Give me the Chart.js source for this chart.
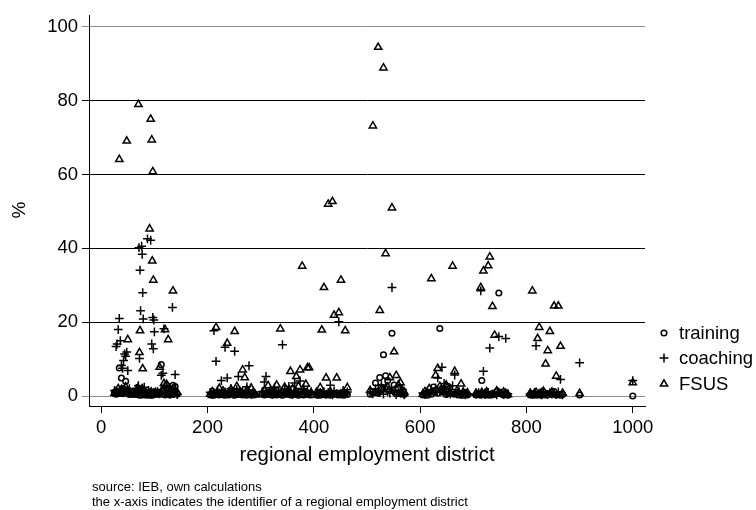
<!DOCTYPE html>
<html>
<head>
<meta charset="utf-8">
<script src="https://cdn.jsdelivr.net/npm/chart.js@4.4.1/dist/chart.umd.min.js"></script>
<style>
  html, body { margin: 0; padding: 0; background: #fff; }
  #wrap { width: 756px; height: 510px; position: relative; }
</style>
</head>
<body>
<div id="wrap"><canvas id="scatterChart"></canvas></div>
<script>
// district identifiers (x) and the three shares per district (%)
const districts = [
  25,28,30,32,34,36,38,40,42,44,46,48,50,53,55,
  63,66,69,70,71,72,73,74,76,77,78,79,81,84,87,89,91,93,94,95,96,97,98,99,100,102,
  106,110,113,116,118,120,123,126,129,132,134,135,137,139,143,
  205,209,212,216,219,222,226,229,233,237,240,244,248,251,255,258,262,266,270,274,278,282,286,290,
  303,307,310,314,318,322,326,330,334,337,341,345,349,353,356,360,364,367,371,374,378,381,385,388,391,395,
  405,408,412,415,419,423,427,431,435,438,443,447,451,455,459,463,
  506,511,516,521,524,527,531,535,539,543,547,551,555,559,563,567,570,
  605,609,613,617,621,625,629,633,637,641,645,649,653,657,661,665,669,673,677,681,685,689,
  705,710,714,716,719,722,725,728,731,736,740,744,748,752,757,761,765,
  807,811,815,818,821,824,828,832,836,840,844,848,852,856,860,864,868,
  900,1000
];
const training = [
  1.0,0.5,1.2,0.8,7.6,1.5,4.9,0.6,2.0,1.1,4.0,0.9,1.6,0.4,1.3,
  0.5,1.2,0.4,0.8,0.3,1.5,0.6,0.2,0.9,1.1,0.4,0.7,0.3,0.5,0.2,0.8,0.3,0.6,0.4,0.2,0.9,0.3,0.5,0.7,0.4,0.6,
  0.5,1.0,8.5,1.5,2.2,0.3,2.9,0.6,0.3,1.8,0.4,2.9,1.2,2.6,0.5,
  0.3,0.6,0.2,0.5,0.8,0.3,1.0,0.4,0.2,0.7,0.3,0.9,0.5,0.2,0.6,0.4,1.1,0.3,0.7,0.2,0.5,0.8,0.3,0.4,
  0.5,0.3,0.8,0.4,1.0,0.2,0.6,0.3,0.9,0.4,0.2,0.7,0.5,1.2,0.3,0.6,0.4,0.8,0.2,1.0,0.5,0.3,0.9,0.4,0.6,0.3,
  0.3,0.5,0.2,0.6,0.4,0.3,0.7,0.2,0.5,0.4,0.8,0.3,0.6,0.2,0.5,0.4,
  0.5,1.2,3.5,0.8,5.0,2.4,11.2,5.5,4.2,1.5,17.0,3.0,0.6,2.1,0.9,1.4,0.4,
  0.3,0.6,0.2,1.0,0.5,2.4,1.5,0.8,18.3,2.0,1.2,0.4,2.6,0.7,1.1,0.5,0.9,0.3,0.6,0.2,0.4,0.3,
  0.3,0.5,0.2,4.2,0.4,0.6,0.3,0.5,0.2,0.7,0.4,1.2,27.9,0.6,0.3,0.5,0.2,
  0.3,0.5,0.2,0.4,0.3,0.6,0.2,0.5,0.3,0.7,0.4,0.6,1.2,0.3,0.5,0.2,0.4,
  0.3,0.0
];
const coaching = [
  1.5,13.4,14.1,18.0,21.0,15.0,8.3,7.5,9.6,11.4,10.8,11.9,6.9,2.0,0.8,
  1.0,2.1,1.6,2.8,40.2,10.2,34.1,23.1,40.6,38.4,28.0,20.9,2.4,1.2,42.6,1.5,0.9,42.2,0.6,14.1,0.8,21.3,12.8,20.6,17.4,0.9,
  1.2,0.6,5.6,6.2,18.2,1.0,0.8,1.4,0.5,0.9,24.0,1.1,0.7,5.8,0.4,
  1.0,0.4,17.7,9.4,1.5,0.8,4.2,0.6,13.2,4.9,1.2,2.0,0.5,12.1,1.8,5.3,0.9,1.4,0.7,2.5,8.2,0.4,1.1,0.6,
  1.2,3.8,5.3,0.9,1.6,0.5,2.2,0.8,1.3,0.6,13.9,1.9,0.7,2.6,1.0,0.4,3.5,1.2,0.8,4.1,0.6,2.0,0.9,1.5,0.5,1.1,
  0.6,0.4,1.0,0.7,1.2,0.5,0.9,2.9,0.3,1.4,0.6,20.1,0.8,1.5,0.5,1.1,
  1.0,0.6,2.0,1.4,0.9,3.0,0.5,2.6,1.2,0.8,29.4,1.6,0.4,1.0,0.7,1.8,0.3,
  0.8,0.4,1.1,0.6,1.5,0.9,2.2,4.9,1.3,7.8,3.4,0.7,1.0,0.5,2.8,5.7,0.6,1.2,0.4,0.9,0.3,0.6,
  0.5,0.9,28.5,0.6,6.7,0.4,0.8,1.0,13.0,0.5,0.7,0.3,16.1,0.8,0.4,15.6,0.6,
  0.6,0.4,0.9,13.6,0.5,0.8,0.3,1.0,0.6,0.4,0.9,0.5,0.7,0.4,1.1,4.5,0.3,
  9.0,4.2
];
const fsus = [
  0.8,1.2,0.5,2.0,64.1,1.0,1.8,0.9,1.4,0.7,2.5,69.1,15.3,1.1,0.6,
  0.3,0.8,2.2,79.0,1.0,11.8,17.7,1.5,0.6,2.0,7.4,1.2,0.5,0.9,0.4,0.7,45.3,75.0,1.1,69.4,36.6,60.8,31.4,0.8,0.5,1.0,
  0.8,7.8,0.4,1.2,3.4,18.0,3.2,15.3,0.9,1.5,0.6,28.5,2.0,0.8,1.0,
  0.5,1.2,0.8,18.6,0.3,2.1,0.6,1.4,0.9,14.3,0.5,1.8,0.7,17.5,2.6,0.4,1.1,7.1,5.0,1.6,0.9,2.2,0.6,0.3,
  0.8,1.5,0.4,2.8,0.6,1.2,0.9,3.0,0.5,18.2,1.0,2.4,0.8,1.7,6.7,2.0,1.1,5.3,2.6,7.1,35.2,1.4,3.2,7.7,7.7,0.9,
  1.0,0.5,2.3,17.9,29.4,4.9,52.0,1.2,52.7,21.9,4.9,22.6,31.4,0.7,17.7,2.3,
  1.5,73.2,0.8,94.5,23.2,1.8,88.9,38.6,2.4,5.0,51.0,12.0,5.6,3.0,3.6,0.5,1.1,
  0.5,1.2,0.7,2.0,31.8,1.0,5.6,7.5,2.6,1.5,0.9,3.0,1.8,0.6,35.2,6.7,1.4,0.8,3.3,1.1,0.5,0.9,
  0.8,0.4,29.4,1.0,33.9,0.6,1.2,35.3,37.7,24.3,16.5,1.4,0.9,0.5,1.1,0.7,0.4,
  0.8,28.5,0.6,1.0,15.6,18.6,0.9,1.3,8.7,12.3,17.5,1.1,24.4,5.4,24.4,13.5,0.8,
  0.7,3.6
];
const xTicks = [0, 200, 400, 600, 800, 1000];
const yTicks = [0, 20, 40, 60, 80, 100];
const seriesNames = ['training', 'coaching', 'FSUS'];
const seriesStyles = ['circle', 'cross', 'triangle'];
const xTitle = 'regional employment district';
const yTitle = '%';
const notes = [
  'source: IEB, own calculations',
  'the x-axis indicates the identifier of a regional employment district'
];

const FONT = 'Liberation Sans, Arial, sans-serif';
const MARK_W = 1.5;

function toPoints(values) {
    return districts.map((d, i) => ({ x: d, y: values[i] }));
}

// marker for the hand drawn legend, same shapes as the points
function drawMarker(ctx, style, x, y) {
    ctx.beginPath();
    if (style === 'circle') {
        ctx.arc(x, y, 2.8, 0, Math.PI * 2);
    } else if (style === 'cross') {
        ctx.moveTo(x, y - 4.4); ctx.lineTo(x, y + 4.4);
        ctx.moveTo(x - 4.4, y); ctx.lineTo(x + 4.4, y);
    } else {
        const r = 4.2;
        ctx.moveTo(x, y - r);
        ctx.lineTo(x + r * Math.sin(Math.PI / 3), y + r / 2);
        ctx.lineTo(x - r * Math.sin(Math.PI / 3), y + r / 2);
        ctx.closePath();
    }
    ctx.stroke();
}

const textPlugin = {
    id: 'stataText',
    afterDraw(chart) {
        const ctx = chart.ctx;
        const area = chart.chartArea;
        ctx.save();
        ctx.fillStyle = '#000';
        ctx.strokeStyle = '#000';

        // y title
        ctx.save();
        ctx.translate(20, 210);
        ctx.rotate(-Math.PI / 2);
        ctx.font = '19px ' + FONT;
        ctx.textAlign = 'center';
        ctx.textBaseline = 'middle';
        ctx.fillText(yTitle, 0, 0);
        ctx.restore();

        // x title
        ctx.font = '20.5px ' + FONT;
        ctx.textAlign = 'center';
        ctx.textBaseline = 'middle';
        ctx.fillText(xTitle, (area.left + area.right) / 2, 455);

        // legend
        const rows = [333, 358, 384];
        ctx.lineWidth = MARK_W;
        ctx.font = '18.5px ' + FONT;
        ctx.textAlign = 'left';
        seriesNames.forEach((name, i) => {
            drawMarker(ctx, seriesStyles[i], 664, rows[i]);
            ctx.fillText(name, 679, rows[i] + 1);
        });

        // notes
        ctx.font = '13px ' + FONT;
        notes.forEach((line, i) => {
            ctx.fillText(line, 92, 487 + i * 15);
        });
        ctx.restore();
    }
};

function makeDataset(label, values, style, radius, order) {
    return {
        label: label,
        data: toPoints(values),
        pointStyle: style,
        pointRadius: radius,
        pointHoverRadius: radius,
        pointBorderWidth: MARK_W,
        borderColor: '#000',
        backgroundColor: 'rgba(0,0,0,0)',
        order: order
    };
}

const gridColor = ctx => (ctx.tick && (ctx.tick.value === 0 || ctx.tick.value === 100)) ? '#8c8c8c' : '#000';

new Chart(document.getElementById('scatterChart'), {
    type: 'scatter',
    data: {
        datasets: [
            makeDataset(seriesNames[0], training, 'circle', 2.8, 3),
            makeDataset(seriesNames[1], coaching, 'cross', 4.4, 2),
            makeDataset(seriesNames[2], fsus, 'triangle', 4.2, 1)
        ]
    },
    options: {
        responsive: true,
        maintainAspectRatio: false,
        animation: false,
        devicePixelRatio: 1,
        layout: { padding: { left: 0, right: 111, top: 13, bottom: 0 } },
        plugins: {
            legend: { display: false },
            tooltip: { enabled: false }
        },
        scales: {
            x: {
                type: 'linear',
                min: -23,
                max: 1023,
                afterFit: s => { s.height = 104; },
                afterBuildTicks: s => { s.ticks = xTicks.map(v => ({ value: v })); },
                border: { display: true, color: '#000', width: 1 },
                grid: { drawOnChartArea: false, drawTicks: true, tickLength: 7, tickColor: '#000' },
                ticks: {
                    color: '#000',
                    font: { family: FONT, size: 18.5 },
                    padding: 4,
                    maxRotation: 0,
                    autoSkip: false,
                    callback: v => String(v)
                }
            },
            y: {
                type: 'linear',
                min: -2.7,
                max: 103.2,
                afterFit: s => { s.width = 89; },
                afterBuildTicks: s => { s.ticks = yTicks.map(v => ({ value: v })); },
                border: { display: true, color: '#000', width: 1 },
                grid: { color: gridColor, tickColor: gridColor, lineWidth: 1, drawTicks: true, tickLength: 7 },
                ticks: {
                    color: '#000',
                    font: { family: FONT, size: 18.5 },
                    padding: 4,
                    callback: v => String(v)
                }
            }
        }
    },
    plugins: [textPlugin]
});
</script>
</body>
</html>
